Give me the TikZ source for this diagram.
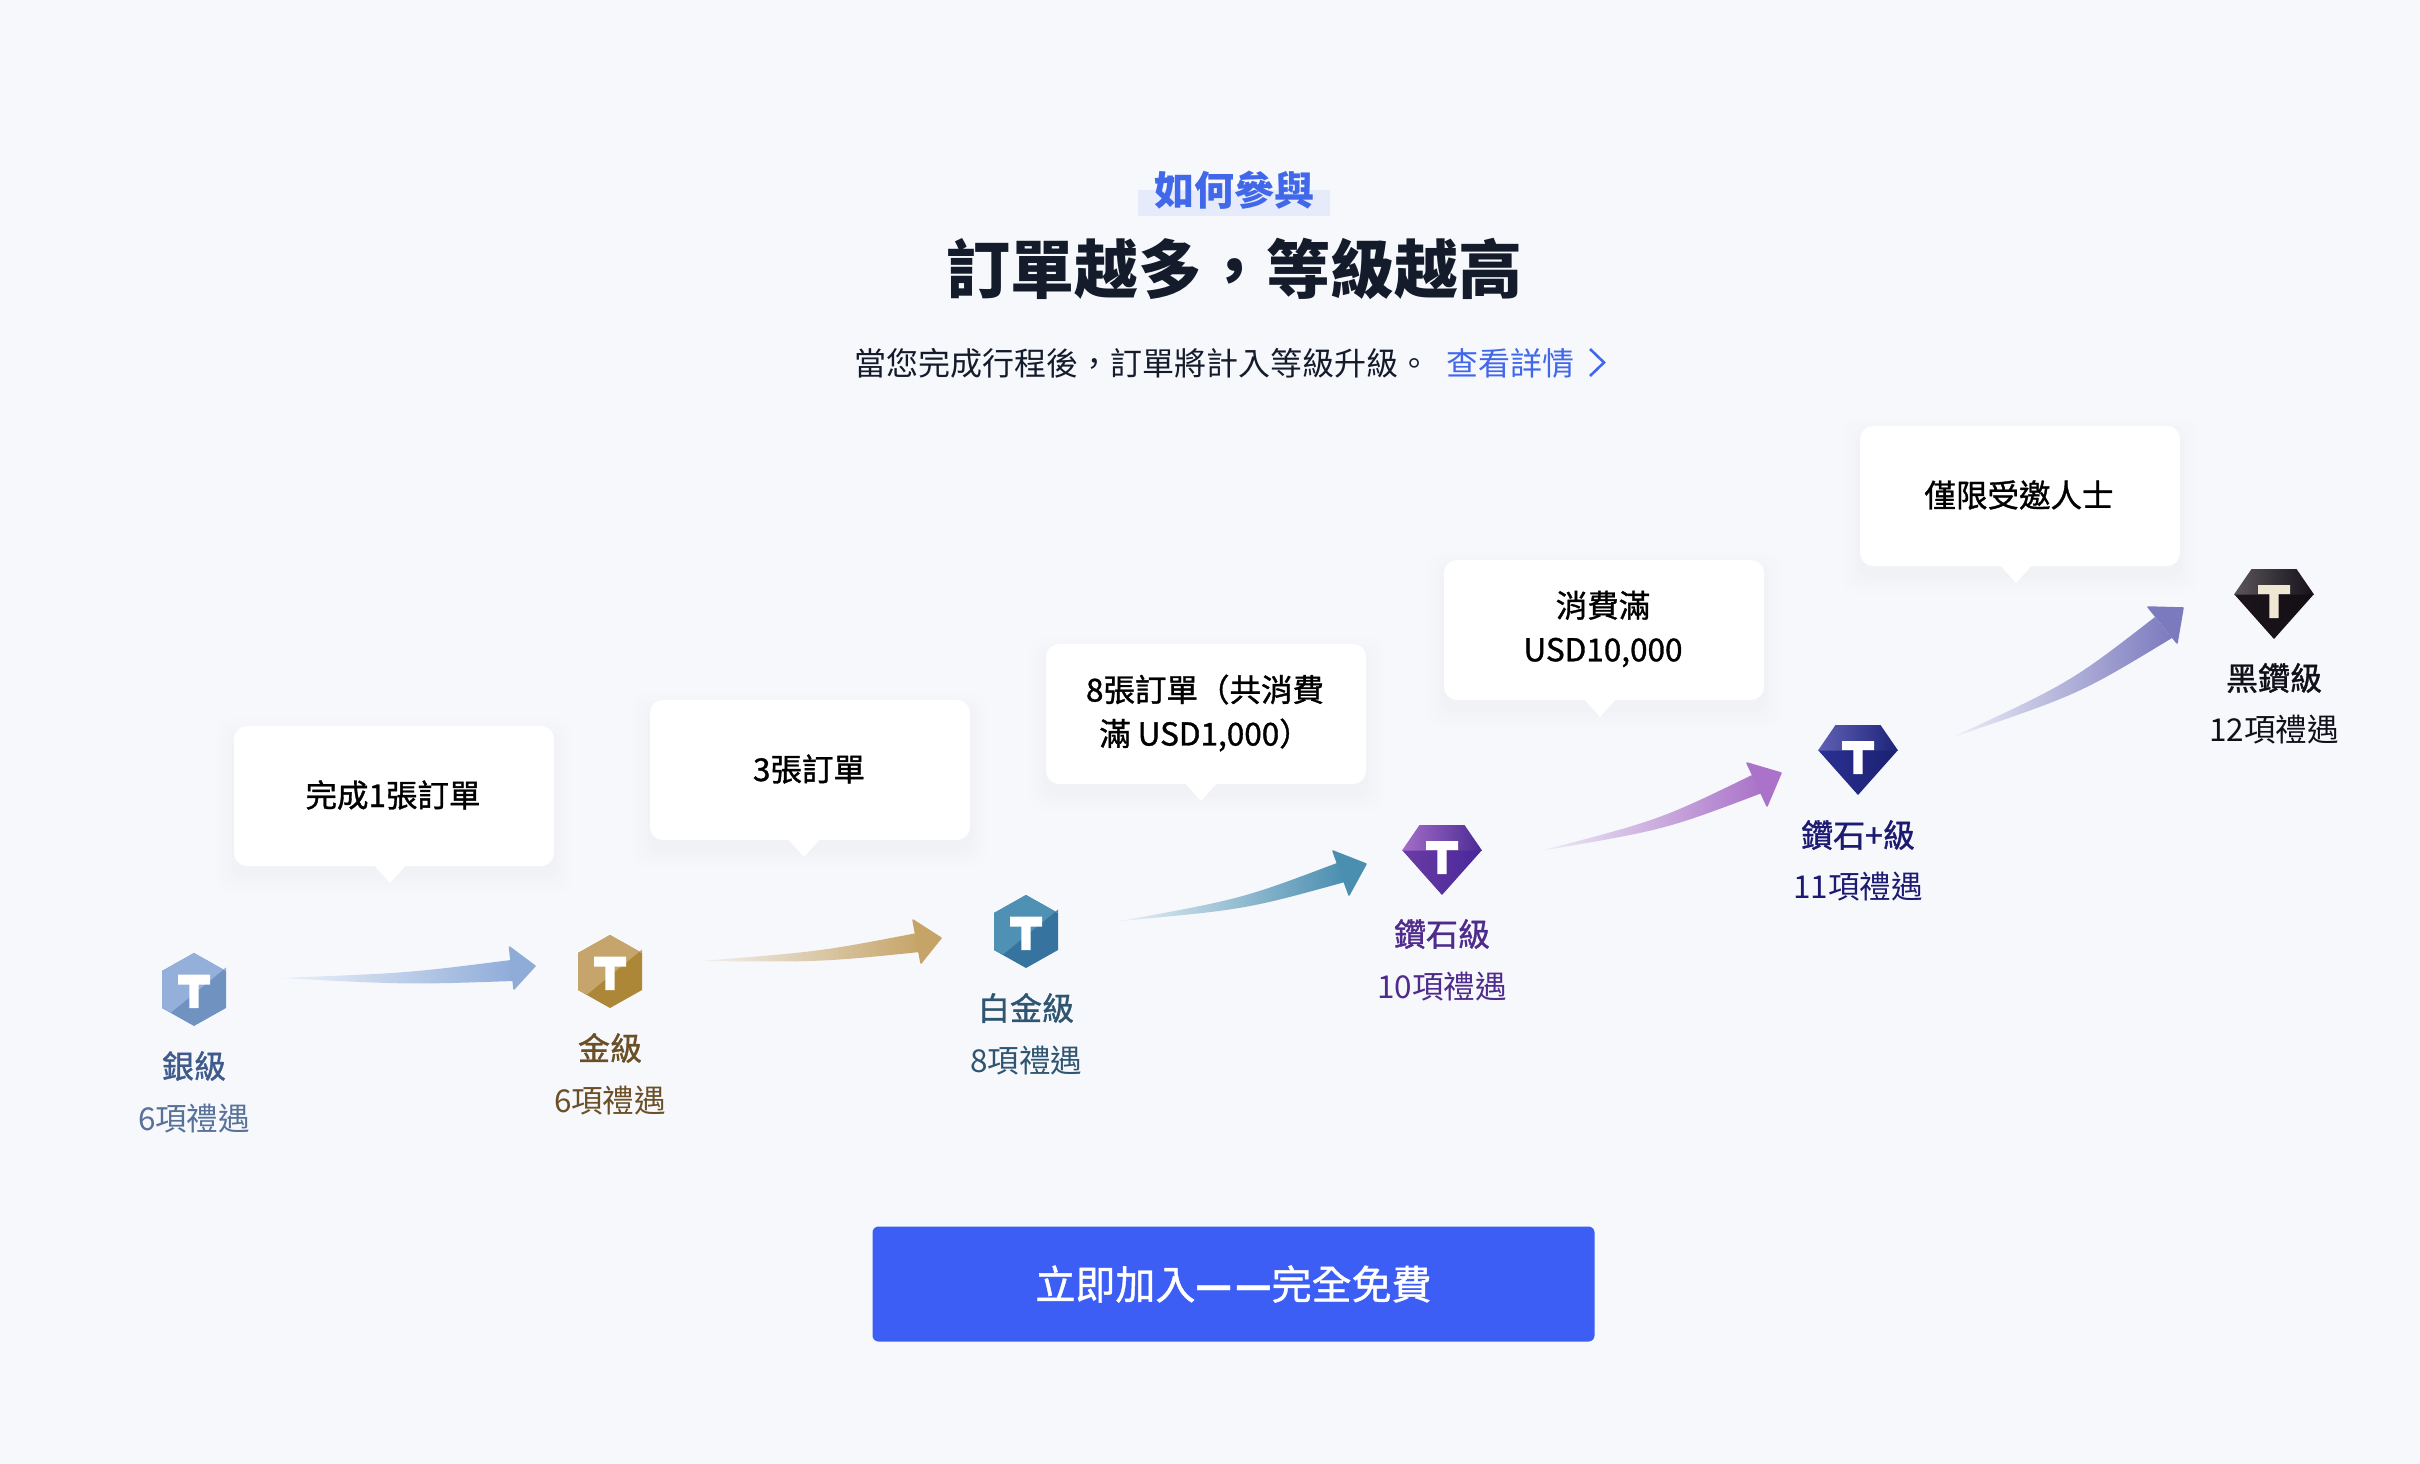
\documentclass[tikz,border=0pt]{standalone}
\usepackage{fontspec}
\setmainfont{Noto Sans CJK TC}
\newfontfamily\medfont[FakeBold=1.1]{Noto Sans CJK TC}
\usetikzlibrary{calc}
\definecolor{pagebg}{HTML}{F6F8FC}
\definecolor{brandblue}{HTML}{3D5EF5}
\definecolor{linkblue}{HTML}{4268EA}
\definecolor{hilite}{HTML}{E6EBFB}
\definecolor{inkdark}{HTML}{141B2B}
\definecolor{aOne}{HTML}{8FACD9}
\definecolor{aTwo}{HTML}{C6A468}
\definecolor{aThree}{HTML}{4A8EB0}
\definecolor{aFour}{HTML}{AA72C8}
\definecolor{aFive}{HTML}{7C7ABF}
\definecolor{sL}{HTML}{93AFDA}\definecolor{sD}{HTML}{7092C0}
\definecolor{gL}{HTML}{C5A56B}\definecolor{gD}{HTML}{AD8738}
\definecolor{pL}{HTML}{4F91B5}\definecolor{pD}{HTML}{36739F}
\definecolor{creamT}{HTML}{EFE6D4}
\definecolor{vTL}{HTML}{A46EC9}\definecolor{vTR}{HTML}{4A2A94}\definecolor{vLL}{HTML}{6C3CA4}\definecolor{vLR}{HTML}{47279A}
\definecolor{bTL}{HTML}{6060B4}\definecolor{bTR}{HTML}{1C2478}\definecolor{bLL}{HTML}{2B3192}\definecolor{bLR}{HTML}{1A2070}
\definecolor{kTL}{HTML}{5C565A}\definecolor{kTR}{HTML}{15101A}\definecolor{kLL}{HTML}{1C161B}\definecolor{kLR}{HTML}{120E14}
\definecolor{tSilver}{HTML}{3F5B8C}\definecolor{tSilverS}{HTML}{587199}
\definecolor{tGold}{HTML}{6B4F26}
\definecolor{tPlat}{HTML}{2F5570}
\definecolor{tVio}{HTML}{4F2B8C}
\definecolor{tBlue}{HTML}{1D1A72}
\definecolor{tBlack}{HTML}{101018}
\newcommand{\fs}[1]{\fontsize{#1}{#1}\selectfont}
\tikzset{
  cardbox/.style={fill=white,rounded corners=13pt,minimum width=320pt,inner sep=0pt},
  cardtext/.style={inner sep=0pt,align=center,font=\fs{31.5}\medfont,text=black},
  tiername/.style={inner sep=0pt,font=\fs{32}\medfont},
  tiersub/.style={inner sep=0pt,font=\fs{31.5}},
  tmark/.style={fill=white}
}
\newcommand{\tcard}[8]{% name, cx, cy, h, tipx, bottom y, text y, text
  \foreach \s in {18,14,10,7,4,2}{
    \fill[black,opacity=0.0055,rounded corners=15pt]
      (#2-160-\s,#3-#4/2-\s+10) rectangle (#2+160+\s,#3+#4/2+\s+10);
  }
  \node[cardbox,minimum height=#4 pt] (#1) at (#2,#3) {};
  \fill[white,line join=round] (#5-17,#6-2) -- (#5,#6+17) -- (#5+17,#6-2) -- cycle;
  \node[cardtext] (#1t) at (#2-1,#7) {#8};
}
\newcommand{\tarrow}[9]{% id, colour, tail, shafttop, shaftbottom, tip, barbtop, barbbottom, bow
  \coordinate (#1T) at (#3);
  \coordinate (#1A) at (#4);
  \coordinate (#1B) at (#5);
  \coordinate (#1P) at (#6);
  \shade[left color=#2!8!pagebg,right color=#2]
    (#1T) .. controls ($(#1T)!.55!(#1A)!#9 pt!-90:(#1A)$) .. (#1A)
    -- (#1B) .. controls ($(#1T)!.55!(#1B)!#9 pt!-90:(#1B)$) .. (#1T) -- cycle;
  \fill[#2,draw=#2,line width=1.5pt,line join=round] (#7) -- (#1P) -- (#8) -- cycle;
}
\newcommand{\thex}[5]{% name, x, y, light, dark
  \begin{scope}[shift={(#2,#3)}]
    \fill[#5] (0,-36.5) -- (32,-18.5) -- (32,18.5) -- (0,36.5) -- (-32,18.5) -- (-32,-18.5) -- cycle;
    \fill[#4] (0,-36.5) -- (32,-18.5) -- (32,-22) -- (-23,23) -- (-32,18.5) -- (-32,-18.5) -- cycle;
    \fill[tmark] (-16,-15) -- (16,-15) -- (16,-5) -- (4.7,-5) -- (4.7,18.5) -- (-4.7,18.5) -- (-4.7,-5) -- (-16,-5) -- cycle;
    \coordinate (#1) at (0,0);
  \end{scope}
}
\newcommand{\tgem}[8]{% name, x, top y, topleft, topright, lowleft, lowright, T colour
  \begin{scope}[shift={(#2,#3)}]
    \shade[left color=#6,right color=#7] (-40,25) -- (40,25) -- (0,70) -- cycle;
    \shade[left color=#4,right color=#5] (-22.5,0) -- (22.5,0) -- (40,25.5) -- (-40,25.5) -- cycle;
    \fill[#8] (-16,16) -- (16,16) -- (16,25) -- (4.7,25) -- (4.7,49) -- (-4.7,49) -- (-4.7,25) -- (-16,25) -- cycle;
    \coordinate (#1) at (0,35);
  \end{scope}
}
\begin{document}
\begin{tikzpicture}[x=1pt,y=-1pt]
\useasboundingbox (0,0) rectangle (2420,1464);
\fill[pagebg] (0,0) rectangle (2420,1464);

% heading
\fill[hilite] (1138,190) rectangle (1330,216);
\node[inner sep=0pt,font=\fs{40}\bfseries,text=linkblue] (kicker) at (1234,190) {如何參與};
\node[inner sep=0pt,font=\fs{64}\bfseries,text=inkdark] (title) at (1234,269) {訂單越多，等級越高};
\node[inner sep=0pt,anchor=west,font=\fs{32},text=inkdark] (lead) at (854,363) {當您完成行程後，訂單將計入等級升級。};
\node[inner sep=0pt,anchor=west,font=\fs{32},text=linkblue] (more) at (1446,363) {查看詳情};
\draw[linkblue,line width=2.6pt,line join=miter] (1590,349) -- (1604,362.5) -- (1590,376);

% cards
\tcard{c1}{394}{796}{140}{390}{866}{795}{完成1張訂單}
\tcard{c2}{810}{770}{140}{804}{840}{769}{3張訂單}
\tcard{c3}{1206}{714}{140}{1201}{784}{713}{8張訂單（共消費\\[12.5pt]滿 USD1,000）}
\tcard{c4}{1604}{630}{140}{1600}{700}{629}{消費滿\\[12.5pt]USD10,000}
\tcard{c5}{2020}{496}{140}{2016}{566}{495}{僅限受邀人士}

% arrows
\tarrow{a1}{aOne}{280,978}{511,960}{513,981}{535,966}{509.5,947}{514,989}{5}
\tarrow{a2}{aTwo}{700,961}{917,933}{920,952}{941,938}{913,920}{921,963}{6}
\tarrow{a3}{aThree}{1120,921}{1337,863}{1345,882}{1366,864}{1333,851}{1349,895}{10}
\tarrow{a4}{aFour}{1540,851}{1752,775}{1762,793}{1781,773}{1747,763}{1767,806}{11}
\tarrow{a5}{aFive}{1953,737}{2155,617}{2172,638}{2183,608}{2148,607}{2177,643}{13}

% tier marks
\thex{m1}{194}{989.5}{sL}{sD}
\thex{m2}{610}{971.5}{gL}{gD}
\thex{m3}{1026}{931.5}{pL}{pD}
\tgem{m4}{1442}{825}{vTL}{vTR}{vLL}{vLR}{white}
\tgem{m5}{1858}{725}{bTL}{bTR}{bLL}{bLR}{white}
\tgem{m6}{2274}{569}{kTL}{kTR}{kLL}{kLR}{creamT}

% tier labels
\node[tiername,text=tSilver] (n1) at (194,1066) {銀級};
\node[tiersub,text=tSilverS] (s1) at (194,1119) {6項禮遇};
\node[tiername,text=tGold] (n2) at (610,1048) {金級};
\node[tiersub,text=tGold] (s2) at (610,1101) {6項禮遇};
\node[tiername,text=tPlat] (n3) at (1026,1008) {白金級};
\node[tiersub,text=tPlat] (s3) at (1026,1061) {8項禮遇};
\node[tiername,text=tVio] (n4) at (1442,934) {鑽石級};
\node[tiersub,text=tVio] (s4) at (1442,987) {10項禮遇};
\node[tiername,text=tBlue] (n5) at (1858,835) {鑽石+級};
\node[tiersub,text=tBlue] (s5) at (1858,887) {11項禮遇};
\node[tiername,text=tBlack] (n6) at (2274,678) {黑鑽級};
\node[tiersub,text=tBlack] (s6) at (2274,730) {12項禮遇};

% button
\node[fill=brandblue,rounded corners=6pt,minimum width=722pt,minimum height=115pt,inner sep=0pt,text=white,font=\fs{40}\medfont] (cta) at (1233.5,1284) {立即加入{\bfseries —\kern3pt—}完全免費};
\end{tikzpicture}
\end{document}
